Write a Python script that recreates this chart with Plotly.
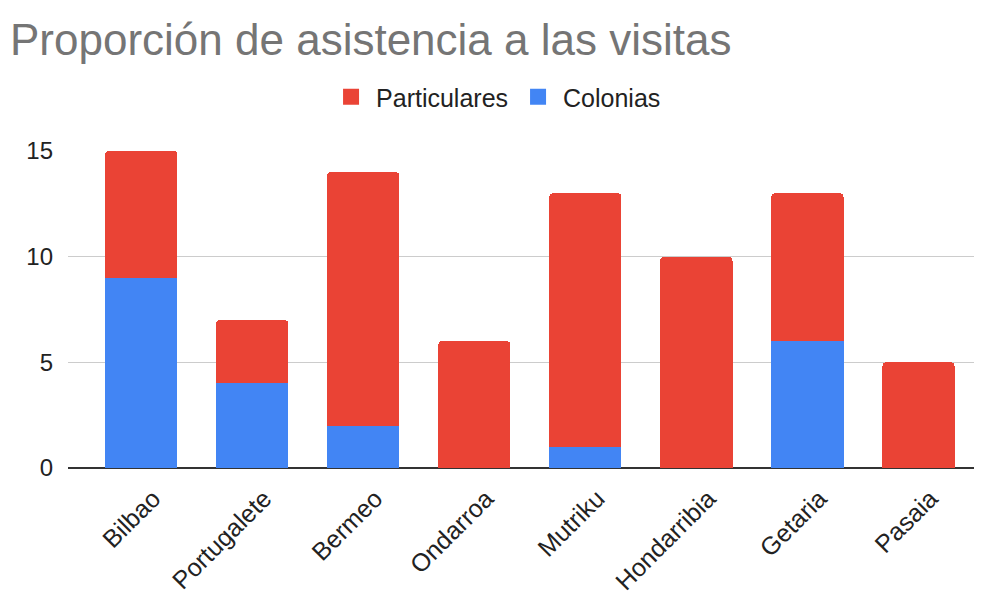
import plotly.graph_objects as go

categories = ["Bilbao", "Portugalete", "Bermeo", "Ondarroa", "Mutriku", "Hondarribia", "Getaria", "Pasaia"]
colonias = [9, 4, 2, 0, 1, 0, 6, 0]
particulares = [6, 3, 12, 6, 12, 10, 7, 5]
y_ticks = [0, 5, 10, 15]

RED = "#EA4335"
BLUE = "#4285F4"
FONT = "Liberation Sans, Arial, sans-serif"

# the page adds an 8px body margin, so the figure is drawn 8px smaller
W, H = 982, 592

fig = go.Figure()
fig.add_trace(go.Bar(x=categories, y=colonias, name="Colonias", marker_color=BLUE,
                     marker_line_width=0, showlegend=False))
fig.add_trace(go.Bar(x=categories, y=particulares, name="Particulares", marker_color=RED,
                     marker_line_width=0, showlegend=False))
# legend entries (square swatches like the original)
fig.add_trace(go.Scatter(x=[None], y=[None], mode="markers", name="Colonias",
                         marker=dict(symbol="square", size=16, color=BLUE)))
fig.add_trace(go.Scatter(x=[None], y=[None], mode="markers", name="Particulares",
                         marker=dict(symbol="square", size=16, color=RED)))

fig.update_layout(
    width=W, height=H,
    barmode="stack", bargap=0.35, barcornerradius=4,
    paper_bgcolor="white", plot_bgcolor="white",
    margin=dict(l=60, r=16, t=143, b=132, pad=0, autoexpand=False),
    font=dict(family=FONT, size=24, color="#222222"),
    title=dict(text="Proporción de asistencia a las visitas", x=2/W, xanchor="left",
               xref="container", y=1-32/H, yanchor="middle", yref="container",
               font=dict(family=FONT, size=44, color="#757575")),
    legend=dict(orientation="h", traceorder="reversed", xref="container", yref="container",
                x=0.497, xanchor="center", y=1-89/H, yanchor="middle", itemsizing="trace",
                itemwidth=40,
                font=dict(family=FONT, size=25, color="#222222"), bgcolor="rgba(0,0,0,0)"),
    showlegend=True,
)
fig.update_xaxes(type="category", range=[-0.66, 7.5], tickangle=-45, showgrid=False,
                 showline=False, ticks="", ticklabelstandoff=10, ticklabelshift=12,
                 automargin=False, tickfont=dict(size=25, color="#222222"))
fig.update_yaxes(range=[0, 15], tickvals=y_ticks, showgrid=True, gridcolor="#cccccc", gridwidth=1,
                 zeroline=True, zerolinecolor="#333333", zerolinewidth=2, showline=False,
                 automargin=False,
                 ticks="", ticklabelstandoff=14, tickfont=dict(size=24, color="#222222"))

fig.write_html("out.html")
